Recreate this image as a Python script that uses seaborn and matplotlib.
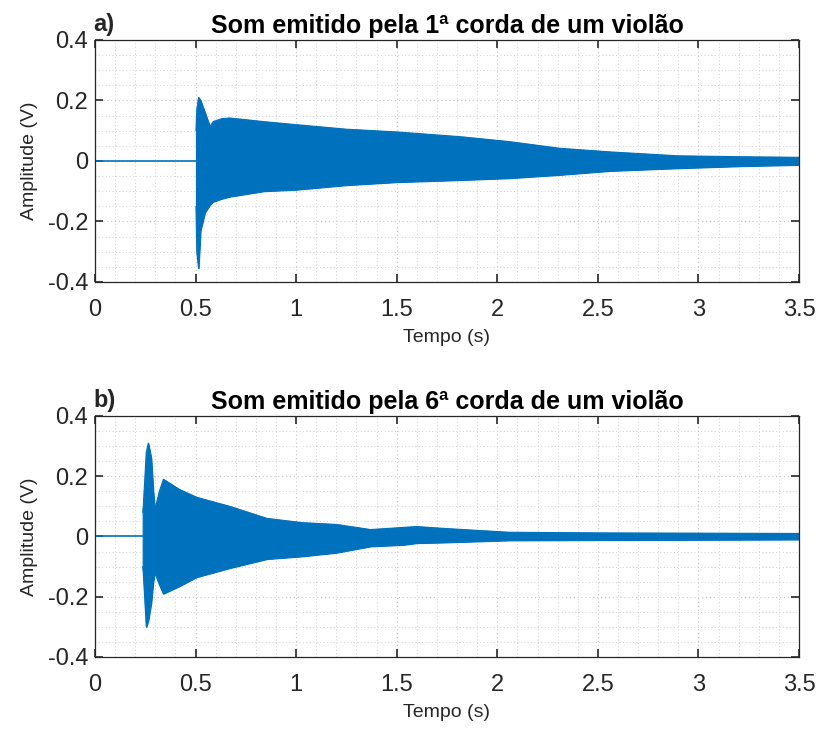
import numpy as np
import pandas as pd
import matplotlib
matplotlib.use("Agg")
import matplotlib.pyplot as plt
import seaborn as sns
from matplotlib.ticker import MultipleLocator, FuncFormatter

# ---- data (signal envelopes) ----
onset_a = 0.502
t_a = [0.502, 0.506, 0.515, 0.525, 0.547, 0.572, 0.587, 0.63, 0.67, 0.84,
       1.0, 1.25, 1.5, 1.82, 2.06, 2.31, 2.56, 2.9, 3.22, 3.5]
upper_a = [0.10, 0.17, 0.21, 0.20, 0.16, 0.113, 0.13, 0.14, 0.142, 0.13,
           0.12, 0.105, 0.096, 0.08, 0.064, 0.042, 0.03, 0.017, 0.014, 0.012]
lower_a = [-0.15, -0.30, -0.355, -0.23, -0.17, -0.145, -0.135, -0.125, -0.118, -0.10,
           -0.095, -0.08, -0.07, -0.063, -0.057, -0.046, -0.033, -0.024, -0.017, -0.013]

onset_b = 0.237
t_b = [0.237, 0.24, 0.255, 0.265, 0.28, 0.29, 0.298, 0.32, 0.34, 0.42, 0.506,
       0.67, 0.855, 1.03, 1.2, 1.37, 1.53, 1.6, 1.73, 2.06, 2.5, 3.0, 3.5]
upper_b = [0.08, 0.10, 0.28, 0.31, 0.26, 0.15, 0.09, 0.15, 0.19, 0.156, 0.13,
           0.10, 0.06, 0.046, 0.04, 0.023, 0.03, 0.033, 0.027, 0.014, 0.012, 0.011, 0.010]
lower_b = [-0.10, -0.12, -0.30, -0.28, -0.22, -0.15, -0.12, -0.16, -0.19, -0.165, -0.135,
           -0.105, -0.075, -0.066, -0.054, -0.033, -0.028, -0.022, -0.02, -0.013, -0.012, -0.011, -0.010]

titles = ["Som emitido pela 1ª corda de um violão", "Som emitido pela 6ª corda de um violão"]
panel_labels = ["a)", "b)"]
x_ticks = [0, 0.5, 1, 1.5, 2, 2.5, 3, 3.5]
y_ticks = [-0.4, -0.2, 0, 0.2, 0.4]
xlabel = "Tempo (s)"
ylabel = "Amplitude (V)"

sns.set_theme(style="white")
plt.rcParams['font.family'] = ['Liberation Sans', 'DejaVu Sans']

BLUE = "#0072BD"
DARK = "#262626"
fig = plt.figure(figsize=(8.21, 7.29), dpi=100)
positions = [[0.1157, 0.6132, 0.8575, 0.3320], [0.1157, 0.0988, 0.8575, 0.3306]]
series = [(onset_a, t_a, upper_a, lower_a), (onset_b, t_b, upper_b, lower_b)]

def fmt(v, pos):
    if abs(v) < 1e-9:
        return "0"
    return ("%g" % v)

for i, (pos, (onset, t, up, lo)) in enumerate(zip(positions, series)):
    ax = fig.add_axes(pos)
    df_pre = pd.DataFrame({"t": [0, onset], "v": [0, 0]})
    sns.lineplot(data=df_pre, x="t", y="v", ax=ax, color=BLUE, lw=1.2)
    ax.fill_between(t, lo, up, color=BLUE, lw=0.8, edgecolor=BLUE)
    df = pd.DataFrame({"t": t, "up": up, "lo": lo})
    sns.lineplot(data=df, x="t", y="up", ax=ax, color=BLUE, lw=0.8)
    sns.lineplot(data=df, x="t", y="lo", ax=ax, color=BLUE, lw=0.8)

    ax.set_xlim(0, 3.5)
    ax.set_ylim(-0.4, 0.4)
    ax.set_xticks(x_ticks)
    ax.set_yticks(y_ticks)
    ax.xaxis.set_minor_locator(MultipleLocator(0.1))
    ax.yaxis.set_minor_locator(MultipleLocator(0.05))
    ax.xaxis.set_major_formatter(FuncFormatter(fmt))
    ax.yaxis.set_major_formatter(FuncFormatter(fmt))
    ax.grid(True, which="major", color="#c8c8c8", lw=0.8, ls=(0, (1, 2.5)))
    ax.grid(True, which="minor", color="#d2d2d2", lw=0.7, ls=(0, (1, 2.5)))
    ax.set_axisbelow(True)
    ax.tick_params(which="major", direction="in", length=6, width=1.2, color=DARK,
                   top=True, right=True, bottom=True, left=True, labelsize=17,
                   labelcolor=DARK)
    ax.tick_params(axis="x", which="major", pad=12)
    ax.tick_params(axis="y", which="major", pad=5)
    ax.tick_params(which="minor", direction="in", length=0, top=True, right=True,
                   bottom=True, left=True)
    for s in ax.spines.values():
        s.set_visible(True)
        s.set_color(DARK)
        s.set_linewidth(0.9)
    ax.set_xlabel(xlabel, fontsize=14, color=DARK, labelpad=6)
    ax.set_ylabel(ylabel, fontsize=14, color=DARK, labelpad=7)
    ax.set_title(titles[i], fontsize=18, fontweight="bold", color="black", pad=5)
    ax.text(-0.002, 1.015, panel_labels[i], transform=ax.transAxes, fontsize=17,
            fontweight="bold", ha="left", va="bottom")

fig.savefig("out.png", dpi=100, facecolor="white")
